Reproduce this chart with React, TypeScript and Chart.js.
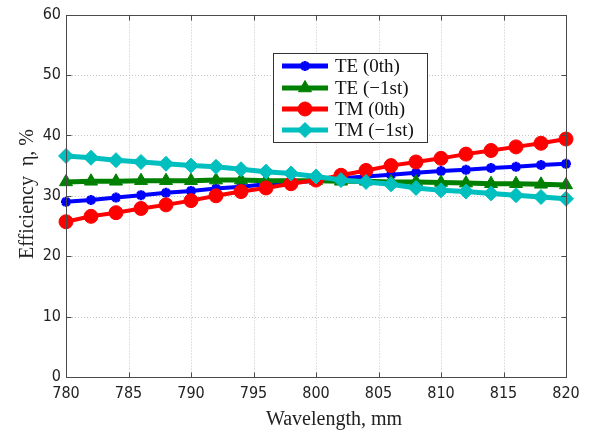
import React, { useEffect, useRef } from 'react';
import { Chart, registerables } from 'chart.js';
import { drawPoint } from 'chart.js/helpers';

Chart.register(...registerables);

const wavelengths = [780, 782, 784, 786, 788, 790, 792, 794, 796, 798, 800, 802, 804, 806, 808, 810, 812, 814, 816, 818, 820];
const teZero = [29.0, 29.3, 29.7, 30.1, 30.5, 30.8, 31.2, 31.5, 31.9, 32.2, 32.5, 32.9, 33.2, 33.5, 33.8, 34.1, 34.3, 34.6, 34.8, 35.1, 35.3];
const teMinusOne = [32.3, 32.4, 32.4, 32.5, 32.5, 32.5, 32.6, 32.6, 32.5, 32.5, 32.5, 32.4, 32.4, 32.3, 32.3, 32.2, 32.1, 32.0, 32.0, 31.9, 31.8];
const tmZero = [25.7, 26.6, 27.2, 27.9, 28.5, 29.2, 30.0, 30.7, 31.3, 32.0, 32.6, 33.4, 34.2, 35.0, 35.6, 36.2, 36.9, 37.5, 38.1, 38.7, 39.4];
const tmMinusOne = [36.6, 36.3, 35.9, 35.6, 35.3, 35.0, 34.8, 34.4, 34.0, 33.7, 33.2, 32.6, 32.3, 31.9, 31.3, 30.9, 30.7, 30.4, 30.1, 29.8, 29.5];
const seriesLabels = ['TE (0th)', 'TE (\u22121st)', 'TM (0th)', 'TM (\u22121st)'];
const xTicks = [780, 785, 790, 795, 800, 805, 810, 815, 820];
const yTicks = [0, 10, 20, 30, 40, 50, 60];
const xTitle = 'Wavelength, mm';
const yTitle = 'Efficiency  \u03b7, %';

const TICK_FONT = "'Liberation Sans Narrow', 'DejaVu Sans Condensed', 'Arial Narrow', sans-serif";
const SERIF = "'Liberation Serif', 'DejaVu Serif', serif";

const frame = {
  id: 'frame',
  beforeDatasetsDraw(chart: any) {
    const { ctx, chartArea: a, scales } = chart;
    ctx.save();
    ctx.strokeStyle = '#c4c4c4';
    ctx.lineWidth = 1;
    ctx.setLineDash([1, 2]);
    xTicks.forEach((v) => {
      const x = Math.round(scales.x.getPixelForValue(v)) + 0.5;
      if (x <= a.left + 1 || x >= a.right - 1) return;
      ctx.beginPath();
      ctx.moveTo(x, a.top);
      ctx.lineTo(x, a.bottom);
      ctx.stroke();
    });
    yTicks.forEach((v) => {
      const y = Math.round(scales.y.getPixelForValue(v)) + 0.5;
      if (y <= a.top + 1 || y >= a.bottom - 1) return;
      ctx.beginPath();
      ctx.moveTo(a.left, y);
      ctx.lineTo(a.right, y);
      ctx.stroke();
    });
    ctx.restore();
  },
  afterDatasetsDraw(chart: any) {
    const { ctx, chartArea: a, scales } = chart;
    ctx.save();
    ctx.strokeStyle = '#4a4a4a';
    ctx.lineWidth = 1;
    ctx.setLineDash([]);
    const L = Math.round(a.left) + 0.5, R = Math.round(a.right) + 0.5;
    const T = Math.round(a.top) + 0.5, B = Math.round(a.bottom) + 0.5;
    ctx.strokeRect(L, T, R - L, B - T);
    const tl = 5;
    ctx.beginPath();
    xTicks.forEach((v) => {
      const x = Math.round(scales.x.getPixelForValue(v)) + 0.5;
      ctx.moveTo(x, B); ctx.lineTo(x, B - tl);
      ctx.moveTo(x, T); ctx.lineTo(x, T + tl);
    });
    yTicks.forEach((v) => {
      const y = Math.round(scales.y.getPixelForValue(v)) + 0.5;
      ctx.moveTo(L, y); ctx.lineTo(L + tl, y);
      ctx.moveTo(R, y); ctx.lineTo(R - tl, y);
    });
    ctx.stroke();

    // axis titles
    ctx.fillStyle = '#222';
    ctx.font = `20px ${SERIF}`;
    ctx.textAlign = 'center';
    ctx.textBaseline = 'alphabetic';
    ctx.fillText(xTitle, 334, 425);
    ctx.translate(33, 194);
    ctx.rotate(-Math.PI / 2);
    ctx.fillText(yTitle, 0, 0);
    ctx.restore();
  },
  afterDraw(chart: any) {
    const { ctx } = chart;
    const bx = 273, by = 53, bw = 154, bh = 89;
    ctx.save();
    ctx.fillStyle = '#ffffff';
    ctx.fillRect(bx, by, bw, bh);
    ctx.strokeStyle = '#333';
    ctx.lineWidth = 1;
    ctx.strokeRect(bx + 0.5, by + 0.5, bw, bh);
    const rows = [66, 88, 109, 130];
    chart.data.datasets.forEach((ds: any, i: number) => {
      const y = rows[i];
      ctx.strokeStyle = ds.borderColor;
      ctx.lineWidth = 5;
      ctx.beginPath();
      ctx.moveTo(282, y);
      ctx.lineTo(328, y);
      ctx.stroke();
      ctx.fillStyle = ds.pointBackgroundColor;
      ctx.strokeStyle = ds.pointBorderColor;
      ctx.lineWidth = ds.pointBorderWidth;
      drawPoint(ctx, { pointStyle: ds.pointStyle, radius: ds.pointRadius, borderWidth: ds.pointBorderWidth, rotation: 0 }, 305, y);
      ctx.fillStyle = '#111';
      ctx.font = `19px ${SERIF}`;
      ctx.textAlign = 'left';
      ctx.textBaseline = 'middle';
      ctx.fillText(ds.label, 335, y + 1);
    });
    ctx.restore();
  },
};

function makeSeries(label: string, values: number[], color: string, style: string, radius: number, pbw: number, lw: number, order: number) {
  return {
    label,
    data: wavelengths.map((x, i) => ({ x, y: values[i] })),
    borderColor: color,
    backgroundColor: color,
    borderWidth: lw,
    pointStyle: style,
    pointRadius: radius,
    pointBackgroundColor: color,
    pointBorderColor: color,
    pointBorderWidth: pbw,
    tension: 0,
    clip: false,
    order,
  };
}

export default function App() {
  const ref = useRef<HTMLCanvasElement>(null);
  useEffect(() => {
    if (!ref.current) return;
    const chart = new Chart(ref.current, {
      type: 'line',
      data: {
        datasets: [
          makeSeries(seriesLabels[0], teZero, '#0000ff', 'star', 5, 3, 4, 4),
          makeSeries(seriesLabels[1], teMinusOne, '#008000', 'triangle', 7.5, 1, 5, 3),
          makeSeries(seriesLabels[2], tmZero, '#ff0000', 'circle', 7, 1, 4, 2),
          makeSeries(seriesLabels[3], tmMinusOne, '#00bfbf', 'rectRot', 7.5, 1, 5, 1),
        ] as any,
      },
      options: {
        animation: false,
        responsive: false,
        events: [],
        layout: { padding: { left: 0, top: 11, right: 24, bottom: 0 } },
        plugins: { legend: { display: false }, tooltip: { enabled: false } },
        scales: {
          x: {
            type: 'linear',
            min: 780,
            max: 820,
            afterBuildTicks: (s: any) => { s.ticks = xTicks.map((v) => ({ value: v })); },
            afterFit: (s: any) => { s.height = 57; },
            grid: { display: false, drawTicks: false },
            border: { display: false },
            ticks: { padding: 7, color: '#222', font: { family: TICK_FONT, size: 16 }, maxRotation: 0, autoSkip: false },
          },
          y: {
            type: 'linear',
            min: 0,
            max: 60,
            afterBuildTicks: (s: any) => { s.ticks = yTicks.map((v) => ({ value: v })); },
            afterFit: (s: any) => { s.width = 66; },
            grid: { display: false, drawTicks: false },
            border: { display: false },
            ticks: { padding: 5, color: '#222', font: { family: TICK_FONT, size: 16 }, autoSkip: false },
          },
        },
      },
      plugins: [frame],
    });
    return () => chart.destroy();
  }, []);
  return (
    <div style={{ position: 'absolute', left: 0, top: 0, width: 590, height: 434, background: '#fff' }}>
      <canvas ref={ref} width={590} height={434} style={{ width: 590, height: 434 }} />
    </div>
  );
}
